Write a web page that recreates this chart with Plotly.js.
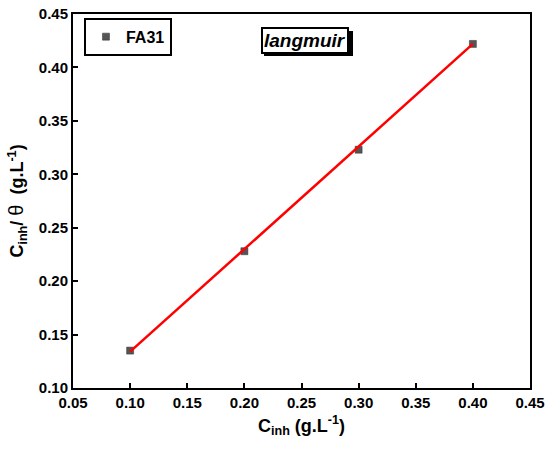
<!DOCTYPE html>
<html>
<head>
<meta charset="utf-8">
<script src="https://cdn.plot.ly/plotly-3.0.1.min.js"></script>
<style>html,body{margin:0;padding:0;background:#fff;}#chart{width:550px;height:452px;}</style>
</head>
<body>
<div id="chart"></div>
<script>
// Data
var concentration = [0.10, 0.20, 0.30, 0.40];
var cOverTheta = [0.135, 0.228, 0.323, 0.422];
var fitX = [0.10, 0.40];
var fitY = [0.134, 0.422];
var xTicks = [0.05, 0.10, 0.15, 0.20, 0.25, 0.30, 0.35, 0.40, 0.45];
var yTicks = [0.10, 0.15, 0.20, 0.25, 0.30, 0.35, 0.40, 0.45];
var seriesName = 'FA31';
var label = 'langmuir';

var FONT = 'Liberation Sans, Arial, sans-serif';

var traces = [
  {
    x: concentration, y: cOverTheta, type: 'scatter', mode: 'markers', name: '<b>' + seriesName + '</b>',
    marker: {symbol: 'square', size: 7, color: '#555555', line: {color: '#333333', width: 0.5}}
  },
  {
    x: fitX, y: fitY, type: 'scatter', mode: 'lines', showlegend: false,
    line: {color: '#ff0000', width: 2.5}
  }
];

var axisCommon = {
  showline: true, linewidth: 2, linecolor: '#000', mirror: true,
  ticks: 'inside', ticklen: 5, tickwidth: 2, tickcolor: '#000',
  showgrid: false, zeroline: false,
  tickfont: {family: FONT, size: 15, color: '#000'}
};

function fmt(v) { return '<b>' + v.toFixed(2) + '</b>'; }

var layout = {
  width: 550, height: 452,
  margin: {l: 73, r: 20, t: 14, b: 64},
  paper_bgcolor: '#fff', plot_bgcolor: '#fff',
  font: {family: FONT, color: '#000'},
  xaxis: Object.assign({}, axisCommon, {
    range: [0.05, 0.45], tickvals: xTicks, ticktext: xTicks.map(fmt),
    title: {text: '<b>C<sub>inh</sub> (g.L<sup>-1</sup>)</b>', font: {family: FONT, size: 18, color: '#000'}, standoff: 9}
  }),
  yaxis: Object.assign({}, axisCommon, {
    range: [0.10, 0.45], tickvals: yTicks, ticktext: yTicks.map(fmt),
    title: {text: '<b>C<sub>inh</sub>/</b> <span style="font-size:20px">θ</span>  <b>(g.L<sup>-1</sup>)</b>', font: {family: FONT, size: 18, color: '#000'}, standoff: 10}
  }),
  showlegend: true,
  legend: {
    x: 0.024, y: 0.99, xanchor: 'left', yanchor: 'top',
    bgcolor: '#fff', bordercolor: '#000', borderwidth: 2,
    font: {family: FONT, size: 16, color: '#000'},
    itemwidth: 30, tracegroupgap: 0
  },
  shapes: [
    {
      type: 'rect', xref: 'paper', yref: 'paper', layer: 'above',
      x0: 0.418, x1: 0.6127, y0: 0.8877, y1: 0.9545,
      fillcolor: '#000', line: {width: 0}
    }
  ],
  annotations: [
    {
      xref: 'paper', yref: 'paper', x: 0.508, y: 0.929, xanchor: 'center', yanchor: 'middle',
      text: '<b><i>' + label + '</i></b>', showarrow: false,
      font: {family: FONT, size: 19, color: '#000'},
      bgcolor: '#fff', bordercolor: '#000', borderwidth: 2, borderpad: 1
    }
  ]
};

Plotly.newPlot('chart', traces, layout, {displayModeBar: false, staticPlot: true});
</script>
</body>
</html>
